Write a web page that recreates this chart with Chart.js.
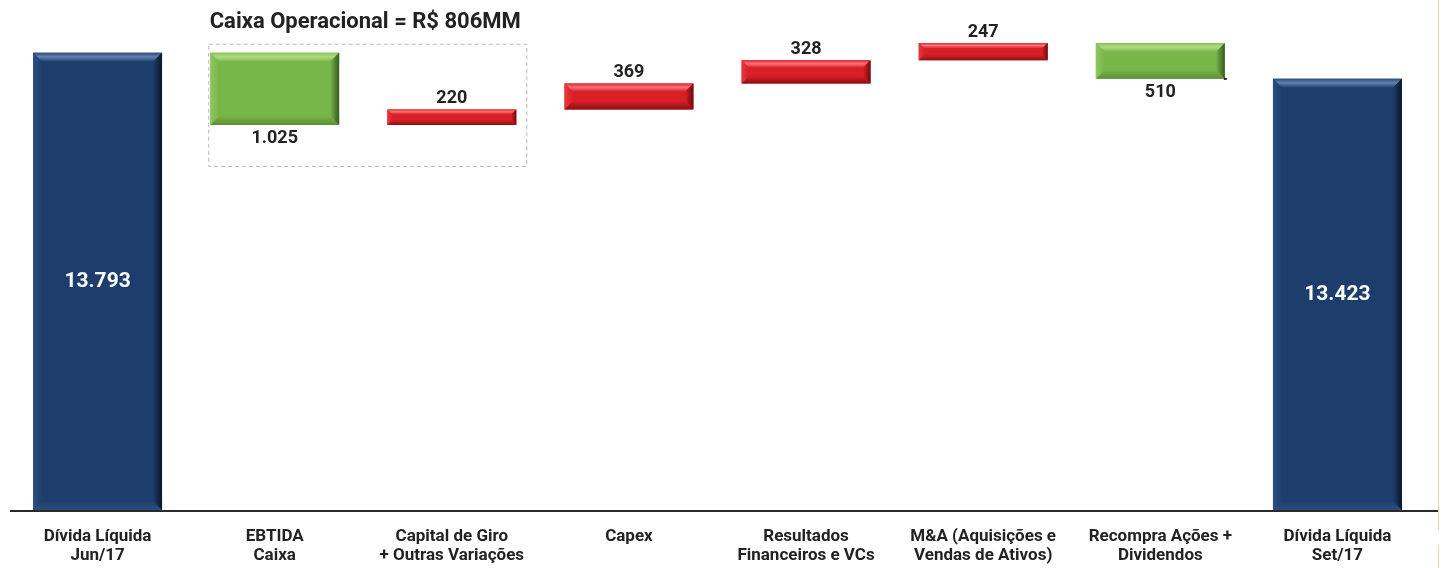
<!DOCTYPE html>
<html><head><meta charset="utf-8">
<script src="https://cdn.jsdelivr.net/npm/chart.js@4.4.1/dist/chart.umd.min.js"></script>
<style>html,body{margin:0;padding:0;background:#fff;overflow:hidden}#wrap{width:1446px;height:568px;position:relative}canvas{display:block}</style>
</head><body><div id="wrap"><canvas id="c" width="1446" height="568"></canvas></div>
<script>
const categories = [["Dívida Líquida","Jun/17"],["EBTIDA","Caixa"],["Capital de Giro","+ Outras Variações"],["Capex"],["Resultados","Financeiros e VCs"],["M&A (Aquisições e","Vendas de Ativos)"],["Recompra Ações +","Dividendos"],["Dívida Líquida","Set/17"]];
const startDebt = 13793;
const changes = [-1025, 220, 369, 328, 247, -510];
const endDebt = 13423;
const valueLabels = ["13.793","1.025","220","369","328","247","510","13.423"];
const barKinds = ["total","decrease","increase","increase","increase","increase","decrease","total"];
const boxTitle = "Caixa Operacional = R$ 806MM";
const axisMin = 7300, axisMax = 14400;

// build waterfall data from the values above
const barData = [startDebt];
let running = startDebt;
changes.forEach(c => { barData.push([running, running + c]); running += c; });
barData.push(endDebt);

const FONT = "Roboto, 'Liberation Sans', sans-serif";
const palettes = {
  total:    {base:'#1d3e6c', topA:'#6482b0', topB:'#2a4a7a', right:'#0a1628', bottom:'#2a4d7c', left:'#2b4f82'},
  increase: {base:'#d81f26', topA:'#f77479', topB:'#e0282e', right:'#6e0a0d', bottom:'#8a1115', left:'#e53a40'},
  decrease: {base:'#79b649', topA:'#b0dc84', topB:'#86c255', right:'#365a20', bottom:'#5b8f35', left:'#8fc660'}
};

const bevelPlugin = {
  id:'bevel',
  afterDatasetsDraw(chart){
    const ctx = chart.ctx;
    const meta = chart.getDatasetMeta(0);
    meta.data.forEach((el,i)=>{
      const p = el.getProps(['x','y','base','width'], true);
      const x0 = p.x - p.width/2, x1 = p.x + p.width/2;
      const t = Math.min(p.y,p.base), bt = Math.max(p.y,p.base);
      const h = bt - t;
      const b = Math.min(9, h*0.32);
      const pal = palettes[barKinds[i]];
      ctx.save();
      let g = ctx.createLinearGradient(0,t,0,t+b);
      g.addColorStop(0,pal.topB); g.addColorStop(0.45,pal.topA); g.addColorStop(1,pal.base);
      ctx.fillStyle = g;
      ctx.beginPath(); ctx.moveTo(x0,t); ctx.lineTo(x1,t); ctx.lineTo(x1-b,t+b); ctx.lineTo(x0+b,t+b); ctx.closePath(); ctx.fill();
      g = ctx.createLinearGradient(0,bt-b,0,bt);
      g.addColorStop(0,pal.base); g.addColorStop(1,pal.bottom);
      ctx.fillStyle = g;
      ctx.beginPath(); ctx.moveTo(x0,bt); ctx.lineTo(x1,bt); ctx.lineTo(x1-b,bt-b); ctx.lineTo(x0+b,bt-b); ctx.closePath(); ctx.fill();
      g = ctx.createLinearGradient(x0,0,x0+b,0);
      g.addColorStop(0,pal.left); g.addColorStop(1,pal.base);
      ctx.fillStyle = g;
      ctx.beginPath(); ctx.moveTo(x0,t); ctx.lineTo(x0+b,t+b); ctx.lineTo(x0+b,bt-b); ctx.lineTo(x0,bt); ctx.closePath(); ctx.fill();
      g = ctx.createLinearGradient(x1-b,0,x1,0);
      g.addColorStop(0,pal.base); g.addColorStop(1,pal.right);
      ctx.fillStyle = g;
      ctx.beginPath(); ctx.moveTo(x1,t); ctx.lineTo(x1-b,t+b); ctx.lineTo(x1-b,bt-b); ctx.lineTo(x1,bt); ctx.closePath(); ctx.fill();
      ctx.restore();
    });
  }
};

const labelPlugin = {
  id:'vlabels',
  afterDatasetsDraw(chart){
    const ctx = chart.ctx;
    const meta = chart.getDatasetMeta(0);
    ctx.save();
    ctx.textAlign = 'center';
    meta.data.forEach((el,i)=>{
      const p = el.getProps(['x','y','base'], true);
      const t = Math.min(p.y,p.base), bt = Math.max(p.y,p.base);
      const kind = barKinds[i];
      if (kind === 'total') {
        ctx.fillStyle = '#ffffff';
        ctx.font = 'bold 21px ' + FONT;
        ctx.textBaseline = 'middle';
        ctx.fillText(valueLabels[i], p.x, (t+bt)/2);
      } else if (kind === 'increase') {
        ctx.fillStyle = '#222222';
        ctx.font = 'bold 18px ' + FONT;
        ctx.textBaseline = 'alphabetic';
        ctx.fillText(valueLabels[i], p.x, t - 6);
      } else {
        ctx.fillStyle = '#222222';
        ctx.font = 'bold 18px ' + FONT;
        ctx.textBaseline = 'top';
        ctx.fillText(valueLabels[i], p.x, bt + 5);
      }
    });
    ctx.restore();
  }
};

const decorPlugin = {
  id:'decor',
  afterDraw(chart){
    const ctx = chart.ctx;
    const meta = chart.getDatasetMeta(0);
    const a = meta.data[1].getProps(['x','y','base','width'], true);
    const c = meta.data[2].getProps(['x','y','base','width'], true);
    const left = a.x - a.width/2 - 1.5;
    const right = c.x + c.width/2 + 10.5;
    const top = Math.min(a.y,a.base) - 8.5;
    const bottom = Math.max(a.y,a.base) + 41.5;
    ctx.save();
    ctx.strokeStyle = '#b8b8b8';
    ctx.lineWidth = 1;
    ctx.setLineDash([4,3]);
    ctx.strokeRect(left, top, right-left, bottom-top);
    ctx.setLineDash([]);
    ctx.fillStyle = '#222222';
    ctx.font = 'bold 22px ' + FONT;
    ctx.textAlign = 'left';
    ctx.textBaseline = 'middle';
    ctx.fillText(boxTitle, left + 1, 22);
    // small connector stub at the end of the buyback bar
    const r = meta.data[6].getProps(['x','y','base','width'], true);
    ctx.fillStyle = '#222222';
    ctx.fillRect(r.x + r.width/2 - 1, Math.max(r.y, r.base) - 1, 3, 2);
    const ya = chart.chartArea.bottom;
    ctx.strokeStyle = '#2a2a2a';
    ctx.lineWidth = 2;
    ctx.beginPath(); ctx.moveTo(10, ya + 1); ctx.lineTo(1438, ya + 1); ctx.stroke();
    ctx.strokeStyle = '#f6cfa8';
    ctx.lineWidth = 1;
    ctx.beginPath(); ctx.moveTo(1438.5, 0); ctx.lineTo(1438.5, 530); ctx.moveTo(1438.5, 545); ctx.lineTo(1438.5, 568); ctx.stroke();
    ctx.restore();
  }
};

new Chart(document.getElementById('c'), {
  type:'bar',
  data:{
    labels: categories,
    datasets:[{
      data: barData,
      base: axisMin,
      backgroundColor: barKinds.map(k => palettes[k].base),
      borderWidth: 0,
      barPercentage: 0.728,
      categoryPercentage: 1
    }]
  },
  options:{
    responsive:false,
    animation:false,
    devicePixelRatio:1,
    layout:{padding:{left:9, right:20, top:10, bottom:0}},
    plugins:{legend:{display:false}, tooltip:{enabled:false}, title:{display:false}},
    scales:{
      x:{
        grid:{display:false, drawTicks:false},
        border:{display:false},
        ticks:{color:'#222222', font:{family:FONT, size:17, weight:'bold', lineHeight:1.13}, padding:17, maxRotation:0, autoSkip:false},
        afterFit(scale){ scale.height = 58; }
      },
      y:{display:false, min:axisMin, max:axisMax}
    }
  },
  plugins:[bevelPlugin, labelPlugin, decorPlugin]
});
</script>
</body></html>
